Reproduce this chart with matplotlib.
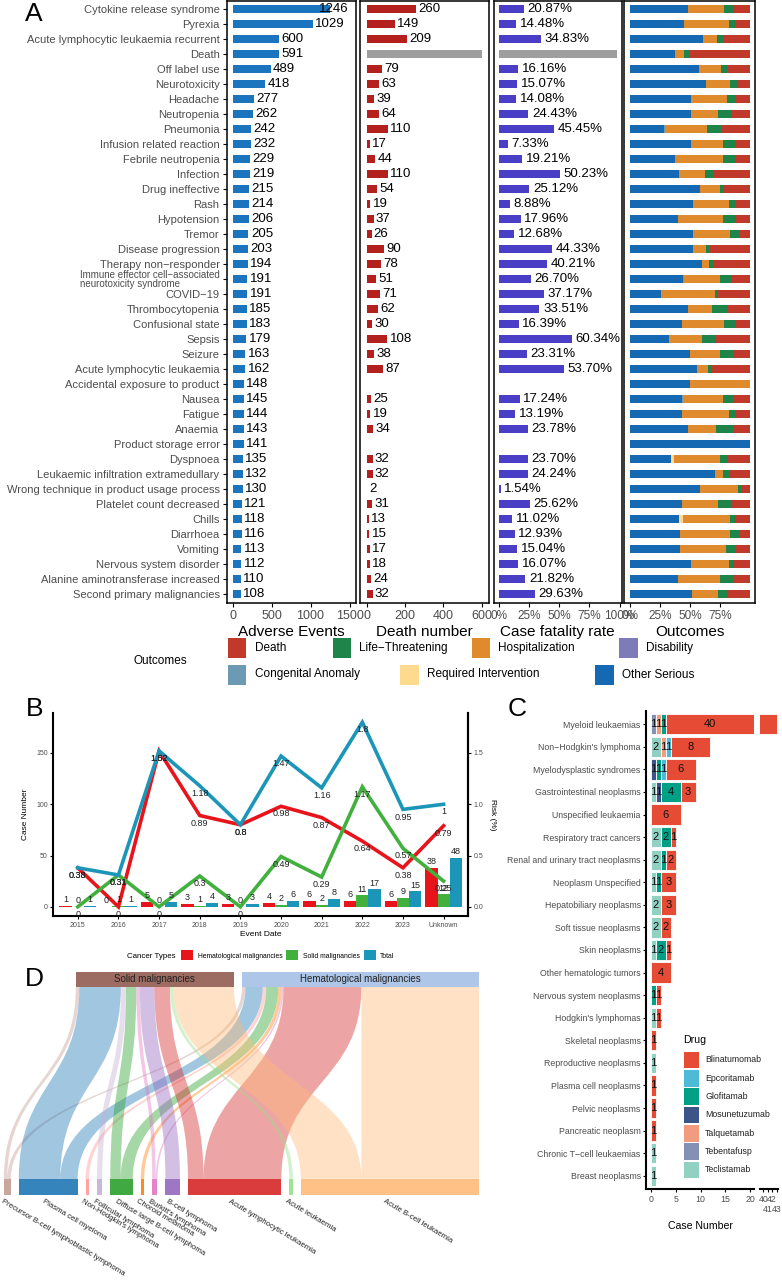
import numpy as np
import matplotlib
matplotlib.use("Agg")
import matplotlib.pyplot as plt
from matplotlib.patches import Rectangle, PathPatch
from matplotlib.path import Path
from matplotlib.ticker import PercentFormatter

plt.rcParams['font.family'] = ['Liberation Sans', 'DejaVu Sans']

# ---------------- panel A data ----------------
events = ['Cytokine release syndrome', 'Pyrexia', 'Acute lymphocytic leukaemia recurrent', 'Death',
          'Off label use', 'Neurotoxicity', 'Headache', 'Neutropenia', 'Pneumonia',
          'Infusion related reaction', 'Febrile neutropenia', 'Infection', 'Drug ineffective', 'Rash',
          'Hypotension', 'Tremor', 'Disease progression', 'Therapy non−responder',
          'Immune effector cell−associated\nneurotoxicity syndrome', 'COVID−19', 'Thrombocytopenia',
          'Confusional state', 'Sepsis', 'Seizure', 'Acute lymphocytic leukaemia',
          'Accidental exposure to product', 'Nausea', 'Fatigue', 'Anaemia', 'Product storage error',
          'Dyspnoea', 'Leukaemic infiltration extramedullary', 'Wrong technique in product usage process',
          'Platelet count decreased', 'Chills', 'Diarrhoea', 'Vomiting', 'Nervous system disorder',
          'Alanine aminotransferase increased', 'Second primary malignancies']
ae_counts = [1246, 1029, 600, 591, 489, 418, 277, 262, 242, 232, 229, 219, 215, 214, 206, 205, 203,
             194, 191, 191, 185, 183, 179, 163, 162, 148, 145, 144, 143, 141, 135, 132, 130, 121, 118,
             116, 113, 112, 110, 108]
# None = not applicable (grey bar), 0 = no deaths reported
death_num = [260, 149, 209, None, 79, 63, 39, 64, 110, 17, 44, 110, 54, 19, 37, 26, 90, 78, 51, 71,
             62, 30, 108, 38, 87, 0, 25, 19, 34, 0, 32, 32, 2, 31, 13, 15, 17, 18, 24, 32]
cfr_pct = [20.87, 14.48, 34.83, None, 16.16, 15.07, 14.08, 24.43, 45.45, 7.33, 19.21, 50.23, 25.12,
           8.88, 17.96, 12.68, 44.33, 40.21, 26.70, 37.17, 33.51, 16.39, 60.34, 23.31, 53.70, 0,
           17.24, 13.19, 23.78, 0, 23.70, 24.24, 1.54, 25.62, 11.02, 12.93, 15.04, 16.07, 21.82, 29.63]

# outcome shares (%) per event
out_other = [48.5, 45, 61, 37.5, 57, 63, 50.5, 50.5, 28, 50.5, 37.5, 41, 58.5, 52.5, 40, 52.5, 52, 60,
             44, 25.5, 48.5, 43, 32.5, 49.5, 55.5, 50, 43, 43.5, 48.5, 100, 34, 70.5, 58.5, 43, 41, 42,
             42, 50.5, 40, 51.5]
out_required = [0] * 30 + [2.5, 0, 0, 0, 3, 0, 0, 0, 0, 0]
out_congenital = [0] * 8 + [1.5] + [0] * 9 + [1] + [0] * 7 + [1.5] + [0] * 13
out_disability = [0] * 40
out_hosp = [29.5, 37, 11.5, 7.5, 19, 20, 30.5, 22.5, 34.5, 27, 39.5, 21, 16, 29.5, 37, 30.5, 11, 5.5,
            29.5, 45, 20, 35, 27.5, 25, 9, 50, 33, 38.5, 23, 0, 38, 6.5, 31, 30.5, 39, 41, 38, 31.5,
            34.5, 22]
out_life = [8.5, 6, 5, 4, 5, 6.5, 6, 12, 11.5, 11, 11, 7.5, 3, 6, 11, 7.5, 3, 3.5, 9.5, 3, 13, 9.5,
            10.5, 12, 4, 0, 8.5, 5.5, 14.5, 0, 7, 5, 3.5, 11.5, 5, 7.5, 8, 4.5, 11.5, 7.5]
out_death = [13.5, 12, 22.5, 51, 19, 10.5, 13, 15, 24.5, 11.5, 12, 30.5, 22.5, 12, 12, 9.5, 34, 31, 16,
             26.5, 18.5, 12.5, 29.5, 13.5, 31.5, 0, 14, 12.5, 14, 0, 18.5, 18, 7, 15, 12, 9.5, 12,
             13.5, 14, 19]

# ---------------- panel B data ----------------
years = ['2015', '2016', '2017', '2018', '2019', '2020', '2021', '2022', '2023', 'Unknown']
heme_cases = [1, 0, 5, 3, 3, 4, 6, 6, 6, 38]
solid_cases = [0, 1, 0, 1, 0, 2, 2, 11, 9, 12]
total_cases = [1, 1, 5, 4, 3, 6, 8, 17, 15, 48]
heme_risk = [0.38, 0, 1.52, 0.89, 0.8, 0.98, 0.87, 0.64, 0.38, 0.79]
solid_risk = [0, 0.31, 0, 0.3, 0, 0.49, 0.29, 1.17, 0.57, 0.25]
total_risk = [0.38, 0.31, 1.52, 1.18, 0.8, 1.47, 1.16, 1.8, 0.95, 1]

# ---------------- panel C data ----------------
cancers = ['Myeloid leukaemias', 'Non−Hodgkin\'s lymphoma', 'Myelodysplastic syndromes',
           'Gastrointestinal neoplasms', 'Unspecified leukaemia', 'Respiratory tract cancers',
           'Renal and urinary tract neoplasms', 'Neoplasm Unspecified', 'Hepatobiliary neoplasms',
           'Soft tissue neoplasms', 'Skin neoplasms', 'Other hematologic tumors',
           'Nervous system neoplasms', 'Hodgkin\'s lymphomas', 'Skeletal neoplasms',
           'Reproductive neoplasms', 'Plasma cell neoplasms', 'Pelvic neoplasms',
           'Pancreatic neoplasm', 'Chronic T−cell leukaemias', 'Breast neoplasms']
drugs = ['Blinatumomab', 'Epcoritamab', 'Glofitamab', 'Mosunetuzumab', 'Talquetamab',
         'Tebentafusp', 'Teclistamab']
blinatumomab = [40, 8, 6, 3, 6, 1, 2, 3, 3, 2, 1, 4, 1, 1, 1, 0, 1, 1, 1, 0, 0]
epcoritamab = [0, 1, 1, 0, 0, 0, 0, 0, 0, 0, 0, 0, 0, 0, 0, 0, 0, 0, 0, 0, 0]
glofitamab = [1, 0, 1, 4, 0, 2, 1, 1, 0, 0, 2, 0, 1, 0, 0, 0, 0, 0, 0, 0, 0]
mosunetuzumab = [0, 0, 1, 1, 0, 0, 0, 0, 0, 0, 0, 0, 0, 0, 0, 0, 0, 0, 0, 0, 0]
talquetamab = [1, 1, 0, 0, 0, 0, 0, 0, 0, 0, 0, 0, 0, 0, 0, 0, 0, 0, 0, 0, 0]
tebentafusp = [1, 0, 0, 0, 0, 0, 0, 0, 0, 0, 0, 0, 0, 0, 0, 0, 0, 0, 0, 0, 0]
teclistamab = [0, 2, 0, 1, 0, 2, 2, 1, 2, 2, 1, 0, 0, 1, 0, 1, 0, 0, 0, 1, 1]

# ---------------- panel D data ----------------
d_nodes = ['Precursor B-cell lymphoblastic lymphoma', 'Plasma cell myeloma', 'Non-Hodgkin\'s lymphoma',
           'Follicular lymphoma', 'Diffuse large B-cell lymphoma', 'Choroid melanoma',
           'Burkitt\'s lymphoma', 'B-cell lymphoma', 'Acute lymphocytic leukaemia', 'Acute leukaemia',
           'Acute B-cell leukaemia']
d_to_solid = [1, 12, 0, 1.5, 3, 0, 1, 4.2, 4.5, 1, 17.5]
d_to_heme = [1, 5, 1, 0, 3.5, 1, 0.5, 0, 22.5, 0, 34]
d_targets = ['Solid malignancies', 'Hematological malignancies']

# ---------------- colours ----------------
AE_COL, DN_COL, CFR_COL, NA_COL = '#1A75BE', '#B3201D', '#4A3EC6', '#9E9E9E'
OUT_COL = {'Death': '#C0392B', 'Life−Threatening': '#1E8449', 'Hospitalization': '#E08A2E',
           'Disability': '#7E7BB9', 'Congenital Anomaly': '#6C9AB5',
           'Required Intervention': '#FDDA8E', 'Other Serious': '#1569B2'}
B_COL = ['#E8141B', '#41B03D', '#1C96B8']
DRUG_COL = ['#E64B35', '#4DBBD5', '#00A087', '#3C5488', '#F39B7F', '#8491B4', '#91D1C2']
D_COL = ['#C49C94', '#1F77B4', '#FF9896', '#C5B0D5', '#2CA02C', '#FF7F0E', '#E377C2', '#9467BD',
         '#D62728', '#98DF8A', '#FFBB78']
D_TOP_COL = ['#9C6B62', '#AEC7E8']
GREY = '#4D4D4D'

W, H = 782, 1280
fig = plt.figure(figsize=(W / 100, H / 100), dpi=100)


def box(x0, y0, x1, y1):
    return fig.add_axes([x0 / W, 1 - y1 / H, (x1 - x0) / W, (y1 - y0) / H])


def fig_key(x, y, w, h, color):
    fig.add_artist(Rectangle((x / W, 1 - (y + h) / H), w / W, h / H, transform=fig.transFigure,
                             facecolor=color, edgecolor='none'))


def fig_text(x, y, s, **kw):
    fig.text(x / W, 1 - y / H, s, **kw)


# ================= Panel A =================
n = len(events)
ypos = np.arange(n)
panels = [box(226.5, 1, 356, 603), box(360, 1, 489, 603), box(493.5, 1, 622, 603), box(624, 1, 755, 603)]
for ax in panels:
    ax.set_ylim(n - 0.4, -0.55)
    for s in ax.spines.values():
        s.set_linewidth(1.1)
    ax.tick_params(axis='x', length=3, labelsize=9, labelcolor=GREY, pad=2)
    ax.set_yticks([])
axA1, axA2, axA3, axA4 = panels

axA1.barh(ypos, ae_counts, height=0.5, color=AE_COL)
for y, v in zip(ypos, ae_counts):
    if v > 1100:
        axA1.text(1490, y, str(v), ha='right', va='center', fontsize=9.5)
    else:
        axA1.text(v + 30, y, str(v), ha='left', va='center', fontsize=9.5)
axA1.set_xlim(-77, 1583)
axA1.set_xticks([0, 500, 1000, 1500])
axA1.set_yticks(ypos, labels=events)
axA1.tick_params(axis='y', length=3, labelsize=8, labelcolor=GREY, pad=2)
for lab in axA1.get_yticklabels():
    if '\n' in lab.get_text():
        lab.set_fontsize(7)
        lab.set_linespacing(0.85)
        lab.set_multialignment('left')
axA1.set_xlabel('Adverse Events', fontsize=11, labelpad=2)

for y, d in zip(ypos, death_num):
    if d is None:
        axA2.barh(y, 600, height=0.5, color=NA_COL)
    elif d > 0:
        axA2.barh(y, d, height=0.5, color=DN_COL)
        axA2.text(d + 12, y, str(d), ha='left', va='center', fontsize=9.5)
axA2.set_xlim(-34, 639)
axA2.set_xticks([0, 200, 400, 600])
axA2.set_xlabel('Death number', fontsize=11, labelpad=2)

for y, c in zip(ypos, cfr_pct):
    if c is None:
        axA3.barh(y, 0.98, height=0.5, color=NA_COL)
    elif c > 0:
        axA3.barh(y, c / 100, height=0.5, color=CFR_COL)
        axA3.text(c / 100 + 0.03, y, f'{c:.2f}%', ha='left', va='center', fontsize=9.5)
axA3.set_xlim(-0.045, 1.02)
axA3.set_xticks([0, 0.25, 0.5, 0.75, 1.0])
axA3.xaxis.set_major_formatter(PercentFormatter(1.0, decimals=0))
axA3.tick_params(axis='x', labelsize=8.5)
axA3.set_xlabel('Case fatality rate', fontsize=11, labelpad=2)

stack = [('Other Serious', out_other), ('Required Intervention', out_required),
         ('Congenital Anomaly', out_congenital), ('Disability', out_disability),
         ('Hospitalization', out_hosp), ('Life−Threatening', out_life), ('Death', out_death)]
left = np.zeros(n)
for name, vals in stack:
    v = np.array(vals) / 100
    axA4.barh(ypos, v, left=left, height=0.5, color=OUT_COL[name])
    left += v
axA4.set_xlim(-0.05, 1.04)
axA4.set_xticks([0, 0.25, 0.5, 0.75])
axA4.xaxis.set_major_formatter(PercentFormatter(1.0, decimals=0))
axA4.tick_params(axis='x', labelsize=8.5)
axA4.set_xlabel('Outcomes', fontsize=11, labelpad=2)

fig_text(25, 2, 'A', fontsize=19, va='top', ha='left')

# legend of panel A
legA = [('Death', 227.5, 638), ('Life−Threatening', 332.5, 638), ('Hospitalization', 471.5, 638),
        ('Disability', 619, 638), ('Congenital Anomaly', 227.5, 664.5),
        ('Required Intervention', 400, 664.5), ('Other Serious', 595, 664.5)]
fig_text(133, 661, 'Outcomes', fontsize=8.5, va='center', ha='left')
for name, kx, ky in legA:
    fig_key(kx, ky, 18.5, 20, OUT_COL[name])
    fig_text(kx + 27, ky + 10, name, fontsize=8.5, va='center', ha='left')

# ================= Panel B =================
axB = box(53.4, 713, 468, 916)
xb = np.arange(len(years))
case_sets = [heme_cases, solid_cases, total_cases]
risk_sets = [heme_risk, solid_risk, total_risk]
for k, (cases, col) in enumerate(zip(case_sets, B_COL)):
    xs = xb + (k - 1) * 0.3
    axB.bar(xs, cases, width=0.3, color=col)
    for x, v in zip(xs, cases):
        axB.text(x, v + 1.5, str(v), ha='center', va='bottom', fontsize=6.5, color='#222222')
for risk, col in zip(risk_sets, B_COL):
    vals = np.array(risk) * 100
    axB.plot(xb, vals, color=col, lw=2.6, solid_joinstyle='miter')
for risk in risk_sets:
    for x, r in zip(xb, risk):
        axB.annotate(f'{r:g}', (x, r * 100), xytext=(0, -5.5), textcoords='offset points',
                     ha='center', va='center', fontsize=6.5, color='#222222')
axB.set_xlim(-0.6, 9.6)
axB.set_ylim(-9, 189)
axB.set_xticks(xb, labels=years)
axB.set_yticks([0, 50, 100, 150])
axB.spines['top'].set_visible(False)
for s in ['left', 'bottom', 'right']:
    axB.spines[s].set_linewidth(1.5)
axB.tick_params(labelsize=5, labelcolor=GREY, length=2.5, width=0.8, pad=1.5)
axB.set_xlabel('Event Date', fontsize=6, labelpad=2)
axB.set_ylabel('Case Number', fontsize=6, labelpad=5)
sec = axB.secondary_yaxis('right', functions=(lambda v: v / 100, lambda v: v * 100))
sec.set_yticks([0, 0.5, 1.0, 1.5], labels=['0.0', '0.5', '1.0', '1.5'])
sec.spines['right'].set_linewidth(1.5)
sec.tick_params(labelsize=5, labelcolor=GREY, length=2.5, width=0.8, pad=1.5)
sec.set_ylabel('Risk (%)', fontsize=6, rotation=270, labelpad=9)
fig_text(26, 697, 'B', fontsize=19, va='top', ha='left')

fig_text(127, 956, 'Cancer Types', fontsize=5.7, va='center', ha='left')
for (name, kx, lx), col in zip([('Hematological malignancies', 181, 198),
                                ('Solid malignancies', 286, 303), ('Total', 364, 380)], B_COL):
    fig_key(kx, 950, 12, 10, col)
    fig_text(lx, 956, name, fontsize=4.9, va='center', ha='left')

# ================= Panel C =================
axC = box(646.3, 710.7, 754, 1189.3)
axC2 = box(760, 710.7, 777.5, 1189.3)
yc = np.arange(len(cancers))
drug_vals = [blinatumomab, epcoritamab, glofitamab, mosunetuzumab, talquetamab, tebentafusp, teclistamab]
c_xlim = (-0.95, 20.8)
for ax in (axC, axC2):
    left = np.zeros(len(cancers))
    for vals, col in zip(drug_vals[::-1], DRUG_COL[::-1]):
        v = np.array(vals, dtype=float)
        ax.barh(yc, v, left=left, height=0.9, color=col, edgecolor='white', linewidth=0.6)
        if ax is axC:
            for y, l0, w in zip(yc, left, v):
                if w > 0:
                    xc = (l0 + min(l0 + w, c_xlim[1])) / 2
                    axC.text(xc, y, f'{w:g}', ha='center', va='center', fontsize=8, color='#111111')
        left += v
    ax.set_ylim(len(cancers) - 0.4, -0.6)
    ax.spines['top'].set_visible(False)
    ax.spines['right'].set_visible(False)
    ax.spines['bottom'].set_linewidth(1.5)
axC.set_xlim(*c_xlim)
axC.set_xticks([0, 5, 10, 15, 20])
axC.set_yticks(yc, labels=cancers)
axC.spines['left'].set_linewidth(1.5)
axC.tick_params(labelsize=6.3, labelcolor=GREY, length=2.5, pad=1.5)
axC.set_xlabel('Case Number', fontsize=7.6, labelpad=12)
axC2.set_xlim(39.25, 43.2)
axC2.set_xticks([40, 41, 42, 43], labels=['40', '\n41', '42', '\n43'])
axC2.set_yticks([])
axC2.spines['left'].set_visible(False)
axC2.tick_params(labelsize=6.3, labelcolor=GREY, length=2.5, pad=1.5)
fig_text(508, 697, 'C', fontsize=19, va='top', ha='left')

fig_text(683, 1040, 'Drug', fontsize=7.6, va='center', ha='left')
for i, (name, col) in enumerate(zip(drugs, DRUG_COL)):
    ky = 1051.7 + 18.3 * i
    fig_key(684, ky, 15, 16.7, col)
    fig_text(705, ky + 8.3, name, fontsize=6.3, va='center', ha='left', color='#222222')

# ================= Panel D =================
axD = box(0, 960, 530, 1280)
axD.set_xlim(0, 530)
axD.set_ylim(1280, 960)
axD.axis('off')

u, gap, x_right = 3.46, 8.0, 479.0
y_t0, y_t1, y_b0, y_b1 = 972.0, 987.0, 1179.0, 1195.0
sol = np.array(d_to_solid, dtype=float)
hem = np.array(d_to_heme, dtype=float)
tot = sol + hem
bx = x_right - (tot.sum() * u + gap * (len(tot) - 1))
top_w = [sol.sum() * u, hem.sum() * u]
top_x = [x_right - (top_w[0] + top_w[1] + gap)]
top_x.append(top_x[0] + top_w[0] + gap)
top_cursor = list(top_x)


def band(xb0, xb1, xt0, xt1, color):
    ym = (y_b0 + y_t1) / 2
    verts = [(xb0, y_b0), (xb0, ym), (xt0, ym), (xt0, y_t1), (xt1, y_t1), (xt1, ym), (xb1, ym),
             (xb1, y_b0), (xb0, y_b0)]
    codes = [Path.MOVETO, Path.CURVE4, Path.CURVE4, Path.CURVE4, Path.LINETO, Path.CURVE4,
             Path.CURVE4, Path.CURVE4, Path.CLOSEPOLY]
    axD.add_patch(PathPatch(Path(verts, codes), facecolor=color, edgecolor='none', alpha=0.42))


x = bx
for i, name in enumerate(d_nodes):
    cur = x
    for t, val in enumerate((sol[i], hem[i])):
        if val > 0:
            w = val * u
            band(cur, cur + w, top_cursor[t], top_cursor[t] + w, D_COL[i])
            top_cursor[t] += w
            cur += w
    wnode = tot[i] * u
    axD.add_patch(Rectangle((x, y_b0), wnode, y_b1 - y_b0, facecolor=D_COL[i], edgecolor='none',
                            alpha=0.9))
    axD.text(x + wnode / 2 - 4, y_b1 + 3, name, rotation=-31, rotation_mode='anchor', ha='left',
             va='top', fontsize=5.6, color='#222222')
    x += wnode + gap

for t, name in enumerate(d_targets):
    axD.add_patch(Rectangle((top_x[t], y_t0), top_w[t], y_t1 - y_t0, facecolor=D_TOP_COL[t],
                            edgecolor='none'))
    axD.text(top_x[t] + top_w[t] / 2, (y_t0 + y_t1) / 2, name, ha='center', va='center',
             fontsize=7, color='#222222')
fig_text(25, 967, 'D', fontsize=19, va='top', ha='left')

fig.savefig('out.png', dpi=100)
